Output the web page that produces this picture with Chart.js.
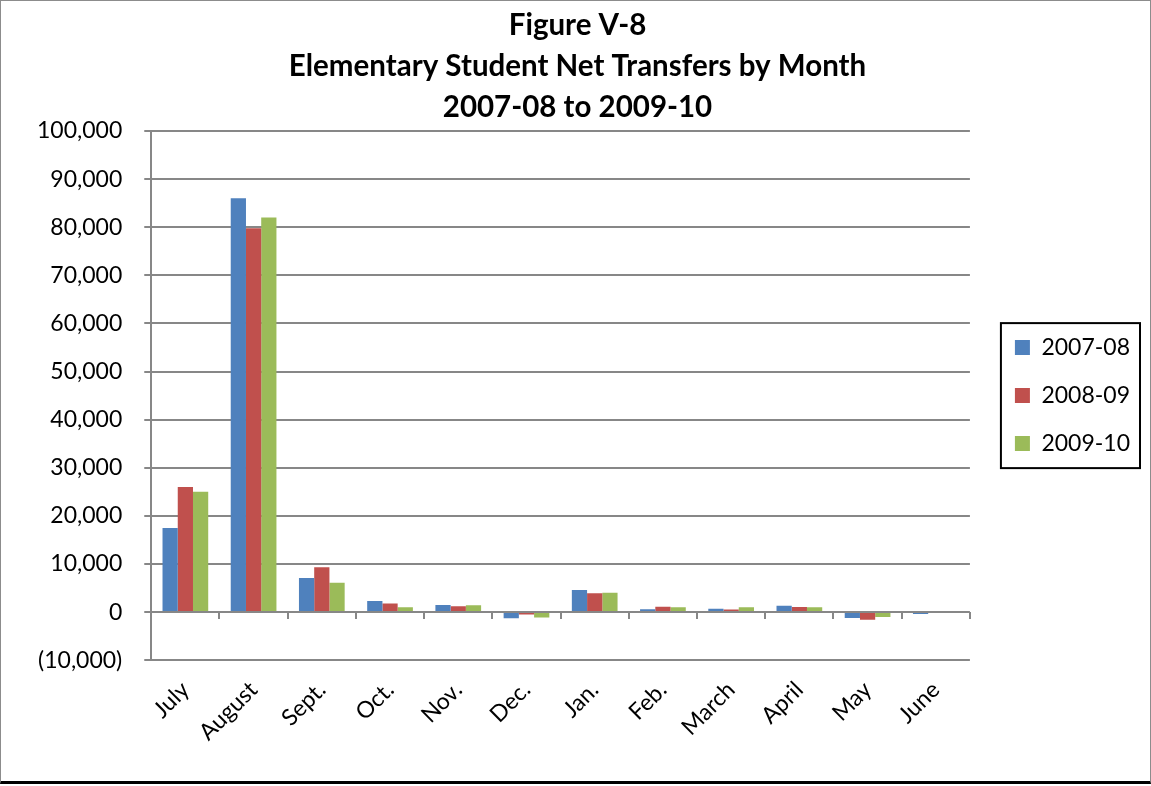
<!DOCTYPE html>
<html>
<head>
<meta charset="utf-8">
<script src="https://cdn.jsdelivr.net/npm/chart.js@4"></script>
<style>
  html, body { margin: 0; padding: 0; background: #fff; }
  #wrap {
    position: absolute; left: 0; top: 0;
    width: 1149px; height: 780px;
    border: 1px solid #8c8c8c;
    border-bottom: 3px solid #000;
  }
</style>
</head>
<body>
<div id="wrap"><canvas id="grafico"></canvas></div>
<script>
const meses = ['July', 'August', 'Sept.', 'Oct.', 'Nov.', 'Dec.', 'Jan.', 'Feb.', 'March', 'April', 'May', 'June'];
const serie0708 = [17500, 86000, 7100, 2300, 1500, -1300, 4600, 600, 700, 1300, -1250, -400];
const serie0809 = [26000, 79800, 9300, 1800, 1200, -500, 3900, 1100, 550, 1050, -1600, 0];
const serie0910 = [25000, 82000, 6100, 1000, 1400, -1100, 4000, 1000, 1000, 1000, -1000, 0];
const titulo = ['Figure V-8', 'Elementary Student Net Transfers by Month', '2007-08 to 2009-10'];

const FUENTE = "Lato, 'Open Sans', sans-serif";
const GRIS = '#878787';

// marcas del eje de categorias sobre la linea del cero
const marcasCero = {
  id: 'marcasCero',
  afterDatasetsDraw(chart) {
    const x = chart.scales.x, y = chart.scales.y;
    const y0 = y.getPixelForValue(0);
    const paso = x.width / meses.length;
    const c = chart.ctx;
    c.save();
    c.strokeStyle = GRIS;
    c.lineWidth = 2;
    c.beginPath();
    for (let i = 0; i <= meses.length; i++) {
      const px = Math.round(x.left + i * paso);
      c.moveTo(px, y0);
      c.lineTo(px, y0 + 7);
    }
    c.stroke();
    c.restore();
  }
};

// recuadro alrededor de la leyenda
const marcoLeyenda = {
  id: 'marcoLeyenda',
  afterDraw(chart) {
    const cajas = chart.legend.legendHitBoxes;
    if (!cajas || !cajas.length) return;
    let l = Infinity, t = Infinity, r = -Infinity, b = -Infinity;
    cajas.forEach(h => {
      l = Math.min(l, h.left); t = Math.min(t, h.top);
      r = Math.max(r, h.left + h.width); b = Math.max(b, h.top + h.height);
    });
    const c = chart.ctx;
    c.save();
    c.strokeStyle = '#000';
    c.lineWidth = 2;
    c.strokeRect(l - 14, t - 13, (r - l) + 24, (b - t) + 26);
    c.restore();
  }
};

const ctx = document.getElementById('grafico').getContext('2d');
new Chart(ctx, {
  type: 'bar',
  data: {
    labels: meses,
    datasets: [
      { label: '2007-08', data: serie0708, backgroundColor: '#4F81BD' },
      { label: '2008-09', data: serie0809, backgroundColor: '#C0504D' },
      { label: '2009-10', data: serie0910, backgroundColor: '#9BBB59' }
    ]
  },
  options: {
    responsive: true,
    maintainAspectRatio: false,
    animation: false,
    datasets: {
      bar: { barPercentage: 1, categoryPercentage: 0.67 }
    },
    layout: {
      padding: { top: 4, right: 10, bottom: 27, left: 14 }
    },
    plugins: {
      title: {
        display: true,
        text: titulo,
        color: '#000',
        font: { family: FUENTE, size: 29.5, weight: 'bold', lineHeight: 1.39 },
        padding: { top: 0, bottom: 3 }
      },
      legend: {
        position: 'right',
        fullSize: false,
        labels: {
          color: '#000',
          boxWidth: 15,
          boxHeight: 15,
          padding: 25,
          font: { family: FUENTE, size: 23 }
        }
      },
      tooltip: { enabled: false }
    },
    scales: {
      y: {
        min: -10000,
        max: 100000,
        ticks: {
          stepSize: 10000,
          color: '#000',
          padding: 22,
          font: { family: FUENTE, size: 23 },
          callback: function(v) {
            const s = Math.abs(v).toLocaleString('en-US');
            return v < 0 ? '(' + s + ')' : s;
          }
        },
        grid: { color: GRIS, lineWidth: 2, tickLength: 7 },
        border: { color: GRIS, width: 2 }
      },
      // eje vacio: solo deja aire entre el grafico y la leyenda
      hueco: {
        position: 'right',
        display: true,
        grid: { display: false },
        border: { display: false },
        ticks: { display: false },
        afterFit(s) { s.width = 20; }
      },
      x: {
        ticks: {
          autoSkip: false,
          maxRotation: 45,
          minRotation: 45,
          color: '#000',
          padding: 8,
          font: { family: FUENTE, size: 23 }
        },
        grid: { display: false },
        border: { display: false }
      }
    }
  },
  plugins: [marcasCero, marcoLeyenda]
});
</script>
</body>
</html>
